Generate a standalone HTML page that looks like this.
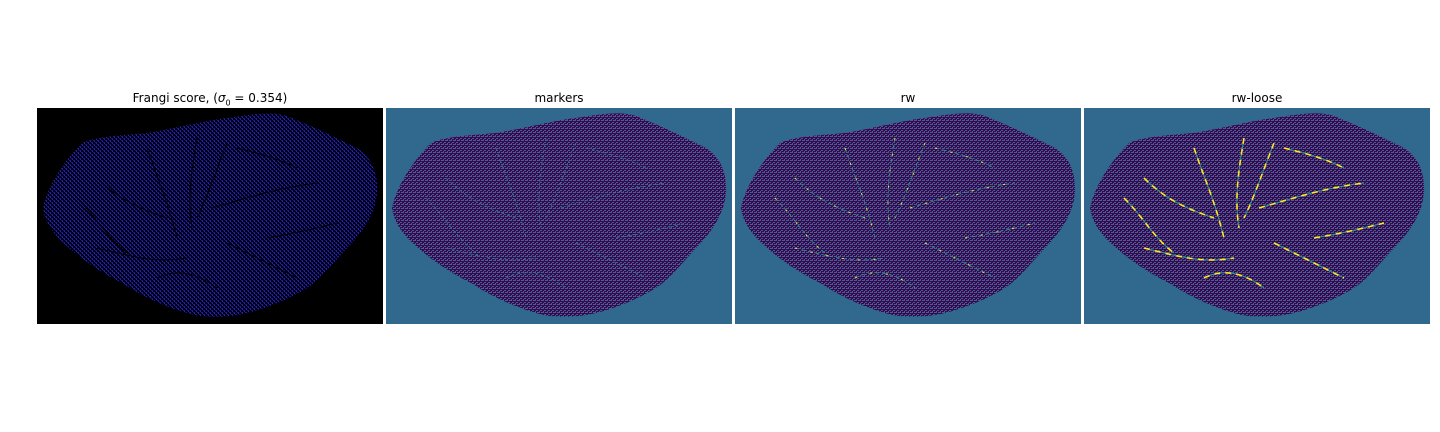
<!DOCTYPE html>
<html><head><meta charset="utf-8"><style>
body{margin:0;background:#fff;width:1440px;height:432px;overflow:hidden;font-family:"DejaVu Sans","Liberation Sans",sans-serif}
.t{position:absolute;top:91px;font-size:12px;color:#000;text-align:center;width:346px}
svg{position:absolute;left:0;top:0}
</style></head><body>
<div class="t" style="left:37px">Frangi score, (<i>σ</i><sub style="font-size:8px">0</sub> = 0.354)</div>
<div class="t" style="left:386px">markers</div>
<div class="t" style="left:735px">rw</div>
<div class="t" style="left:1084px">rw-loose</div>
<svg width="1440" height="432">
<defs>
<pattern id="pb" width="4" height="4" patternUnits="userSpaceOnUse"><rect width="4" height="4" fill="#000"/><rect width="2" height="1" fill="#1a14b0"/><rect x="2" y="2" width="2" height="1" fill="#1a14b0"/><rect x="1" y="1" width="1" height="1" fill="#2a20c8"/><rect x="3" y="3" width="1" height="1" fill="#2a20c8"/></pattern>
<pattern id="pv" width="4" height="4" patternUnits="userSpaceOnUse"><rect width="4" height="4" fill="#440154"/><rect width="2" height="1" fill="#31688e"/><rect x="2" y="2" width="2" height="1" fill="#31688e"/><rect x="3" y="0" width="1" height="1" fill="#35708c"/><rect x="1" y="3" width="1" height="1" fill="#31688e"/></pattern>
<path id="blob" d="M6,100 C10,80 25,55 45,35 C60,28 90,27 110,25 C140,20 170,12 190,10 C215,6 235,3 250,8 C275,18 300,30 320,40 C335,50 341,65 340,85 C338,105 328,120 315,135 C300,150 285,170 270,180 C250,192 230,200 210,205 C190,210 165,210 150,205 C125,198 100,185 85,175 C65,165 45,152 30,138 C18,128 8,115 6,100Z"/>
<g id="veins" fill="none">
<path d="M60,70 C80,90 100,100 130,110 M110,40 C120,70 130,90 140,130 M160,30 C155,60 150,90 155,120 M190,35 C180,60 170,90 160,110 M175,100 C210,90 240,80 280,75 M60,140 C100,150 120,155 150,150 M190,135 C220,150 240,160 260,170 M230,130 C260,125 280,120 300,115 M40,90 C60,110 70,130 90,145 M200,40 C220,45 240,50 260,60 M120,170 C140,160 160,165 180,180"/>
</g>
</defs>
<g transform="translate(37,108)"><rect width="346" height="216" fill="#000"/><use href="#blob" fill="url(#pb)"/><use href="#veins" stroke="#000" stroke-width="1"/></g>
<g transform="translate(386,108)"><rect width="346" height="216" fill="#31688e"/><use href="#blob" fill="url(#pv)"/><use href="#veins" stroke="#26828e" stroke-width="0.8" stroke-dasharray="3 3"/></g>
<g transform="translate(735,108)"><rect width="346" height="216" fill="#31688e"/><use href="#blob" fill="url(#pv)"/><use href="#veins" stroke="#1f9e89" stroke-width="0.8" stroke-dasharray="4 3"/><use href="#veins" stroke="#fde725" stroke-width="1" stroke-dasharray="2 14"/></g>
<g transform="translate(1084,108)"><rect width="346" height="216" fill="#31688e"/><use href="#blob" fill="url(#pv)"/><use href="#veins" stroke="#fde725" stroke-width="1.6" stroke-dasharray="6 5"/><use href="#veins" stroke="#2a9d8f" stroke-width="1" stroke-dasharray="5 6" stroke-dashoffset="5"/></g>
</svg>
</body></html>
